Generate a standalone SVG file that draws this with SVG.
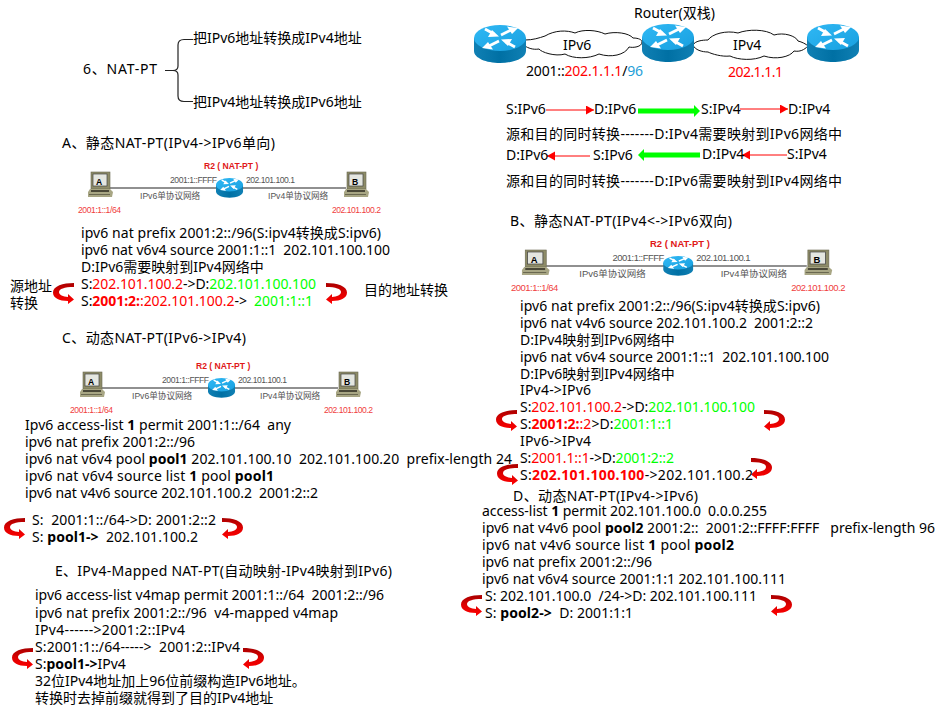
<svg xmlns="http://www.w3.org/2000/svg" width="952" height="714" viewBox="0 0 952 714">
<style>
text{font-family:"Noto Sans","Noto Sans CJK SC",sans-serif;font-size:14px;fill:#000;white-space:pre}
.r{fill:#f00}.g{fill:#0f0}.c{fill:#1ea0d8}
.b{font-weight:700}
.t8 text{font-family:"Liberation Sans","Noto Sans CJK SC",sans-serif;font-size:8.6px;fill:#555}
.t8 text.lr{fill:#f04040}
.t8 text.lh{fill:#e01818;font-weight:700}
.t8 text.pl{fill:#000;font-weight:700}
.wire{stroke:#222;stroke-width:1.2;fill:none}
.thin{stroke:#f00;stroke-width:1;fill:none;marker-end:url(#hr)}
.thick{stroke:#0f0;stroke-width:5;fill:none;marker-end:url(#hg)}
.brk{stroke:#222;stroke-width:1.2;fill:none}
.cloud{fill:#fff;stroke:#111;stroke-width:1}
</style>
<defs>
<marker id="hr" markerUnits="userSpaceOnUse" markerWidth="9" markerHeight="10" refX="8" refY="4.500" orient="auto"><path d="M0 0L8 4.500L0 9z" fill="#f00"/></marker>
<marker id="hg" markerUnits="userSpaceOnUse" markerWidth="7" markerHeight="12" refX="1" refY="6" orient="auto"><path d="M0 0L6 6L0 12z" fill="#0f0"/></marker>
<linearGradient id="ct" x1="0" y1="0" x2="0" y2="1"><stop offset="0" stop-color="#a80000"/><stop offset=".5" stop-color="#e00000"/><stop offset="1" stop-color="#f00"/></linearGradient>
<linearGradient id="rt" x1="0" y1="0" x2="1" y2="1"><stop offset="0" stop-color="#30b8f4"/><stop offset="1" stop-color="#18a0e0"/></linearGradient>
<linearGradient id="rb" x1="0" y1="0" x2="1" y2="0"><stop offset="0" stop-color="#1080b4"/><stop offset=".5" stop-color="#0070a4"/><stop offset="1" stop-color="#1080b4"/></linearGradient>
<path id="curl" fill="url(#ct)" d="M21 0V4C11 4 6 6 6 9C6 12 10 13.500 15 14V11L21 16.500L15 21V18C6 18 0 15 0 9.500C0 3 10 0 21 0Z"/>
<g id="router">
<path d="M0 13V26C0 33 12 38 26 38S52 33 52 26V13Z" fill="url(#rb)"/>
<ellipse cx="26" cy="13" rx="26" ry="13" fill="url(#rt)"/>
<g fill="none" stroke="#fff" stroke-width="2.800">
<path d="M11 4L20 9M41 22L32 17M27 10L37 5M25 16L15 21"/>
</g>
<g fill="#fff">
<path d="M18 5L25 11.500L14 12Z M34 21L27 14.500L38 14Z M33 1.500L44 3L38 9Z M19 24.500L8 23L14 17Z"/>
</g>
</g>
<g id="pc">
<rect x="3" y="0" width="19" height="17" fill="#8e8c68" stroke="#6a6850" stroke-width=".6"/>
<rect x="5" y="2" width="14" height="12" fill="#e4e6e0" stroke="#444" stroke-width=".7"/>
<path d="M2 17H22L25 20L24 25H0L0 20Z" fill="#a8a684"/>
<rect x="3" y="18" width="18" height="2" fill="#4a4838"/>
<rect x="1" y="22" width="21" height="1" fill="#6a6850"/>
</g>
<g id="topo" class="t8">
<line class="wire" x1="110" y1="188" x2="346" y2="188"/>
<use href="#pc" transform="translate(88 172)"/>
<text class="pl" x="96" y="185">A</text>
<use href="#pc" transform="translate(344 172)"/>
<text class="pl" x="352" y="185">B</text>
<use href="#router" transform="translate(216 178) scale(.52)"/>
<text class="lh" x="204" y="169">R2 ( NAT-PT )</text>
<text x="170" y="183" textLength="47">2001:1::FFFF</text>
<text x="246" y="183" textLength="49">202.101.100.1</text>
<text x="140" y="199">IPv6单协议网络</text>
<text x="268" y="199">IPv4单协议网络</text>
<text class="lr" x="78" y="213" textLength="43">2001:1::1/64</text>
<text class="lr" x="332" y="213" textLength="49">202.101.100.2</text>
</g>
</defs>

<g id="connectors">
<path class="brk" d="M165 70.500H173Q178 70.500 178 66V45Q178 39.500 184 39.500H193"/>
<path class="brk" d="M173 70.500Q178 70.500 178 75V96Q178 101.500 184 101.500H193"/>
<line class="thin" x1="546" y1="110" x2="594" y2="110"/>
<line class="thick" x1="638" y1="111" x2="695" y2="111"/>
<line class="thin" x1="740" y1="109" x2="788" y2="109"/>
<line class="thin" x1="590" y1="156" x2="547" y2="156"/>
<line class="thick" x1="700" y1="155" x2="643" y2="155"/>
<line class="thin" x1="787" y1="155" x2="742" y2="155"/>
<use href="#curl" x="53" y="283"/>
<use href="#curl" transform="translate(347 283) scale(-1 1)"/>
<use href="#curl" x="496" y="410"/>
<use href="#curl" transform="translate(785 410) scale(-1 1)"/>
<use href="#curl" x="497" y="464"/>
<use href="#curl" transform="translate(772 458) scale(-1 1)"/>
<use href="#curl" x="461" y="595"/>
<use href="#curl" transform="translate(792 595) scale(-1 1)"/>
<use href="#curl" x="4" y="518"/>
<use href="#curl" transform="translate(243 518) scale(-1 1)"/>
<use href="#curl" x="12" y="648"/>
<use href="#curl" transform="translate(264 648) scale(-1 1)"/>
</g>

<g id="node-natpt">
<text x="83" y="74" textLength="74">6、NAT-PT</text>
<text x="193" y="43">把IPv6地址转换成IPv4地址</text>
<text x="193" y="107">把IPv4地址转换成IPv6地址</text>
</g>

<g id="node-dualstack">
<text x="634" y="18">Router(双栈)</text>
<path class="cloud" d="M525 40C533 40 539 38 545 36C555 30 567 30 575 33C583 29 597 30 605 34C615 31 629 33 633 38C639 38 642 40 642 42C642 47 633 48 629 47C625 55 611 58 599 54C589 59 573 59 565 54C555 57 541 52 539 49C533 50 528 48 525 46"/>
<path class="cloud" d="M693 45C695 41 702 40 708 40C712 34 726 30 738 33C748 29 766 29 774 35C784 32 796 36 798 41C802 42 806 44 808 46C804 50 800 52 794 51C790 57 776 60 764 56C754 61 738 60 730 56C722 57 712 54 708 52C702 52 695 50 693 45Z"/>
<use href="#router" x="474" y="25"/>
<use href="#router" x="642" y="24"/>
<use href="#router" x="807" y="24"/>
<text x="563" y="50">IPv6</text>
<text x="733" y="50">IPv4</text>
<text x="526" y="76" textLength="117">2001::<tspan class="r">202.1.1.1</tspan>/<tspan class="c">96</tspan></text>
<text class="r" x="728" y="77" textLength="55">202.1.1.1</text>
<text x="506" y="114">S:IPv6</text>
<text x="594" y="114">D:IPv6</text>
<text x="701" y="114">S:IPv4</text>
<text x="788" y="114">D:IPv4</text>
<text x="506" y="139" textLength="336">源和目的同时转换-------D:IPv4需要映射到IPv6网络中</text>
<text x="506" y="160">D:IPv6</text>
<text x="593" y="160">S:IPv6</text>
<text x="702" y="159">D:IPv4</text>
<text x="787" y="159">S:IPv4</text>
<text x="506" y="186" textLength="336">源和目的同时转换-------D:IPv6需要映射到IPv4网络中</text>
</g>

<g id="node-a">
<text x="62" y="148" textLength="213">A、静态NAT-PT(IPv4->IPv6单向)</text>
<use href="#topo"/>
<text x="81" y="238" textLength="300">ipv6 nat prefix 2001:2::/96(S:ipv4转换成S:ipv6)</text>
<text x="81" y="255" textLength="309">ipv6 nat v6v4 source 2001:1::1  202.101.100.100</text>
<text x="81" y="272">D:IPv6需要映射到IPv4网络中</text>
<text x="81" y="289" textLength="235">S:<tspan class="r">202.101.100.2</tspan>->D:<tspan class="g">202.101.100.100</tspan></text>
<text x="81" y="306" textLength="232">S:<tspan class="r b">2001:2:</tspan><tspan class="r">:202.101.100.2</tspan>->  <tspan class="g">2001:1::1</tspan></text>
<text x="10" y="291">源地址</text>
<text x="10" y="308">转换</text>
<text x="364" y="295">目的地址转换</text>
</g>

<g id="node-b">
<text x="510" y="226" textLength="222">B、静态NAT-PT(IPv4&lt;->IPv6双向)</text>
<use href="#topo" transform="translate(424.800 78) scale(1.104 1)"/>
<text x="520" y="311" textLength="300">ipv6 nat prefix 2001:2::/96(S:ipv4转换成S:ipv6)</text>
<text x="520" y="328" textLength="293">ipv6 nat v4v6 source 202.101.100.2  2001:2::2</text>
<text x="520" y="345">D:IPv4映射到IPv6网络中</text>
<text x="520" y="362" textLength="309">ipv6 nat v6v4 source 2001:1::1  202.101.100.100</text>
<text x="520" y="379">D:IPv6映射到IPv4网络中</text>
<text x="520" y="395" textLength="71">IPv4->IPv6</text>
<text x="520" y="412" textLength="235">S:<tspan class="r">202.101.100.2</tspan>->D:<tspan class="g">202.101.100.100</tspan></text>
<text x="520" y="429" textLength="153">S:<tspan class="r b">2001:2:</tspan><tspan class="r">:2</tspan>>D:<tspan class="g">2001:1::1</tspan></text>
<text x="520" y="446" textLength="71">IPv6->IPv4</text>
<text x="520" y="463" textLength="154">S:<tspan class="r">2001.1::1</tspan>->D:<tspan class="g">2001:2::2</tspan></text>
<text x="520" y="480" textLength="233">S:<tspan class="r b">202.101.100.100</tspan>->202.101.100.2</text>
</g>

<g id="node-c">
<text x="62" y="343" textLength="184">C、动态NAT-PT(IPv6->IPv4)</text>
<use href="#topo" transform="translate(-8 200)"/>
<text x="25" y="430" textLength="266">Ipv6 access-list <tspan class="b">1</tspan> permit 2001:1::/64  any</text>
<text x="25" y="447" textLength="170">ipv6 nat prefix 2001:2::/96</text>
<text x="25" y="464" textLength="487">ipv6 nat v6v4 pool <tspan class="b">pool1</tspan> 202.101.100.10  202.101.100.20  prefix-length 24</text>
<text x="25" y="481" textLength="249">ipv6 nat v6v4 source list <tspan class="b">1</tspan> pool <tspan class="b">pool1</tspan></text>
<text x="25" y="498" textLength="293">ipv6 nat v4v6 source 202.101.100.2  2001:2::2</text>
<text x="32" y="525" textLength="184">S:  2001:1::/64->D: 2001:2::2</text>
<text x="32" y="542" textLength="166">S: <tspan class="b">pool1-></tspan>  202.101.100.2</text>
</g>

<g id="node-d">
<text x="513" y="501" textLength="185">D、动态NAT-PT(IPv4->IPv6)</text>
<text x="482" y="516" textLength="285">access-list <tspan class="b">1</tspan> permit 202.101.100.0  0.0.0.255</text>
<text x="482" y="533" textLength="453">ipv6 nat v4v6 pool <tspan class="b">pool2</tspan> 2001:2::  2001:2::FFFF:FFFF   prefix-length 96</text>
<text x="482" y="550" textLength="252">ipv6 nat v4v6 source list <tspan class="b">1</tspan> pool <tspan class="b">pool2</tspan></text>
<text x="482" y="567" textLength="170">ipv6 nat prefix 2001:2::/96</text>
<text x="482" y="584" textLength="304">ipv6 nat v6v4 source 2001:1:1 202.101.100.111</text>
<text x="485" y="601" textLength="272">S: 202.101.100.0  /24->D: 202.101.100.111</text>
<text x="485" y="618" textLength="148">S: <tspan class="b">pool2-></tspan>  D: 2001:1:1</text>
</g>

<g id="node-e">
<text x="55" y="576" textLength="337">E、IPv4-Mapped NAT-PT(自动映射-IPv4映射到IPv6)</text>
<text x="35" y="600" textLength="349">ipv6 access-list v4map permit 2001:1::/64  2001:2::/96</text>
<text x="35" y="618" textLength="303">ipv6 nat prefix 2001:2::/96  v4-mapped v4map</text>
<text x="35" y="635" textLength="150">IPv4------>2001:2::IPv4</text>
<text x="35" y="652" textLength="205">S:2001:1::/64----->  2001:2::IPv4</text>
<text x="35" y="669">S:<tspan class="b">pool1-></tspan>IPv4</text>
<text x="35" y="686">32位IPv4地址加上96位前缀构造IPv6地址。</text>
<text x="35" y="703">转换时去掉前缀就得到了目的IPv4地址</text>
</g>
</svg>
